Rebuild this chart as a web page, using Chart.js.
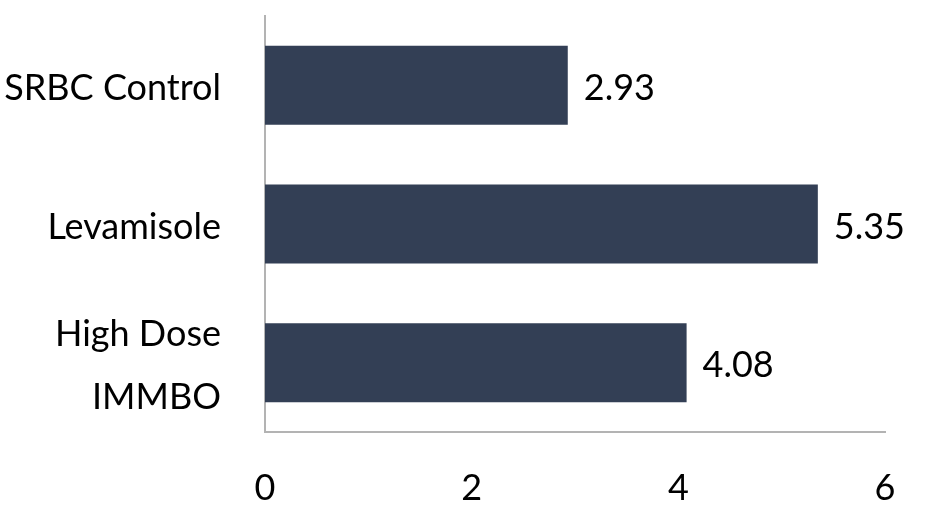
<!DOCTYPE html>
<html>
<head>
<meta charset="utf-8">
<script src="https://cdn.jsdelivr.net/npm/chart.js@4/dist/chart.umd.min.js"></script>
<style>
    html, body { margin: 0; padding: 0; background: #fff; }
    #wrap { width: 938px; height: 508px; }
</style>
</head>
<body>
<div id="wrap"><canvas id="chart" width="938" height="508"></canvas></div>
<script>
// data
const categories = [["SRBC Control"], ["Levamisole"], ["High Dose", "IMMBO"]];
const values = [2.93, 5.35, 4.08];
const xTicks = [0, 2, 4, 6];

const barColor = "#333f55";
const fontFamily = "Lato, 'Open Sans', sans-serif";
const fontSize = 36;

// draws the number at the end of each bar
const valueLabels = {
    id: "valueLabels",
    afterDatasetsDraw(chart) {
        const ctx = chart.ctx;
        const meta = chart.getDatasetMeta(0);
        ctx.save();
        ctx.font = fontSize + "px " + fontFamily;
        ctx.fillStyle = "#000";
        ctx.textAlign = "left";
        ctx.textBaseline = "middle";
        meta.data.forEach((bar, i) => {
            ctx.fillText(values[i].toFixed(2), bar.x + 16, bar.y + 3);
        });
        ctx.restore();
    },
};

new Chart(document.getElementById("chart").getContext("2d"), {
    type: "bar",
    data: {
        labels: categories,
        datasets: [
            {
                data: values,
                backgroundColor: barColor,
                borderWidth: 0,
                barPercentage: 0.57,
                categoryPercentage: 1,
            },
        ],
    },
    options: {
        indexAxis: "y",
        responsive: false,
        animation: false,
        layout: {
            padding: { top: 16, right: 53, left: 0, bottom: 0 },
        },
        plugins: {
            legend: { display: false },
            tooltip: { enabled: false },
        },
        scales: {
            x: {
                min: 0,
                max: 6,
                afterBuildTicks: (axis) => {
                    axis.ticks = xTicks.map((v) => ({ value: v }));
                },
                afterFit: (axis) => {
                    axis.height = 76;
                    axis.paddingLeft = 0;
                    axis.paddingRight = 0;
                },
                ticks: {
                    color: "#000",
                    padding: 27,
                    font: { size: fontSize, family: fontFamily },
                },
                grid: { display: false },
                border: { display: true, color: "#b3b3b3", width: 2 },
            },
            y: {
                afterFit: (axis) => {
                    axis.width = 265;
                    axis.paddingTop = 0;
                    axis.paddingBottom = 0;
                },
                ticks: {
                    color: "#000",
                    padding: 36,
                    autoSkip: false,
                    labelOffset: 3,
                    font: { size: fontSize, family: fontFamily, lineHeight: 1.75 },
                },
                grid: { display: false },
                border: { display: true, color: "#b3b3b3", width: 2 },
            },
        },
    },
    plugins: [valueLabels],
});
</script>
</body>
</html>
